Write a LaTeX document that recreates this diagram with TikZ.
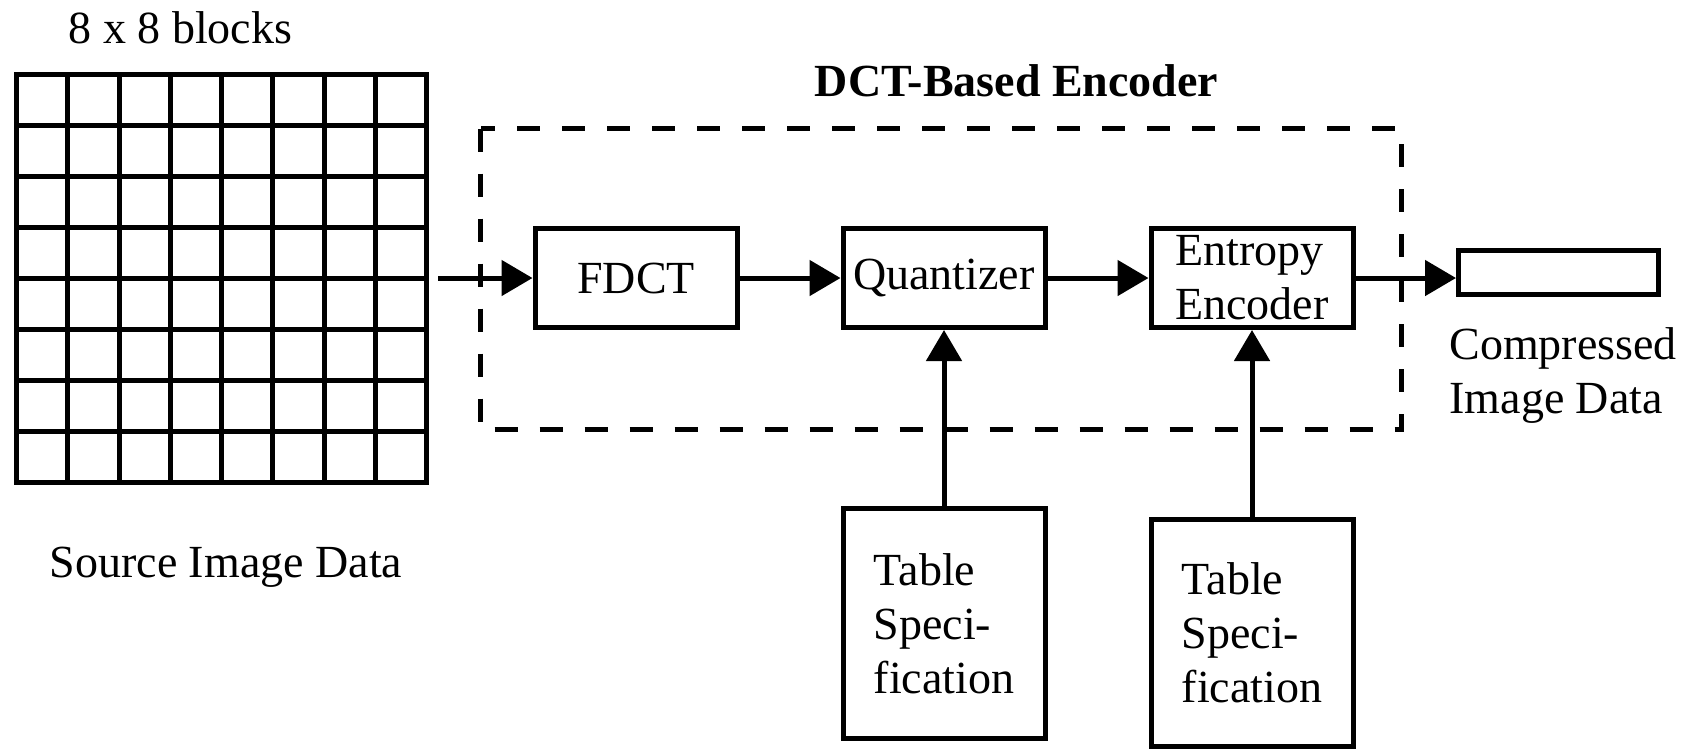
\documentclass[tikz,border=0pt]{standalone}
\usepackage{fontspec}
\setmainfont{Liberation Serif}
\usetikzlibrary{arrows.meta, positioning}

\begin{document}
\begin{tikzpicture}[x=0.5pt,y=-0.5pt,>={Triangle[length=15.5pt,width=17.5pt]},line width=2.5pt,
            font=\fontsize{23}{27}\selectfont,node distance=50.5pt]
            \tikzset{block/.style={draw, minimum width=101pt, minimum height=49.5pt, inner sep=0pt},
                     tabbox/.style={draw, align=left, minimum width=101pt, inner sep=0pt}}
            \useasboundingbox (0,0) rectangle (1689,751);
            % 8 x 8 source grid
            \foreach \i in {0,...,8} {
                \draw[line cap=rect] (16.5+\i*51.25,74.5) -- (16.5+\i*51.25,482.5);
                \draw[line cap=rect] (16.5,74.5+\i*51) -- (426.5,74.5+\i*51);
            }
            \node[anchor=base] (blk) at (180.5,43) {8 x 8 blocks};
            \node[anchor=base] (srclbl) at (226,577) {Source Image Data};
            % encoder
            \draw[dash pattern=on 11.5pt off 11pt] (480.5,128.5) rectangle (1401.5,429.5);
            \node[anchor=base, font=\fontsize{23}{27}\selectfont\bfseries] (enclbl) at (1016.5,96) {DCT-Based Encoder};
            \node[block] (fdct) at (636,278) {FDCT};
            \node[block, right=of fdct] (quant) {Quantizer};
            \node[block, right=of quant, align=left] (entropy) {Entropy\\Encoder};
            \node[draw, minimum width=100pt, minimum height=22pt, inner sep=0pt] (out) at (1558.5,272.5) {};
            \node[anchor=west, align=left, inner sep=0pt] (outlbl) at (1447,375) {Compressed\\Image Data};
            \node[tabbox, minimum height=115pt] (tabq) at (944,623.5) {Table\\Speci-\\fication};
            \node[tabbox, minimum height=113.5pt] (tabe) at (1252,633) {Table\\Speci-\\fication};
            \coordinate (src) at (438,278);
            \draw[->] (src) -- (fdct);
            \draw[->] (fdct) -- (quant);
            \draw[->] (quant) -- (entropy);
            \draw[->] (entropy) -- (entropy -| out.west);
            \draw[->] (tabq) -- (quant);
            \draw[->] (tabe) -- (entropy);
        \end{tikzpicture}
\end{document}
